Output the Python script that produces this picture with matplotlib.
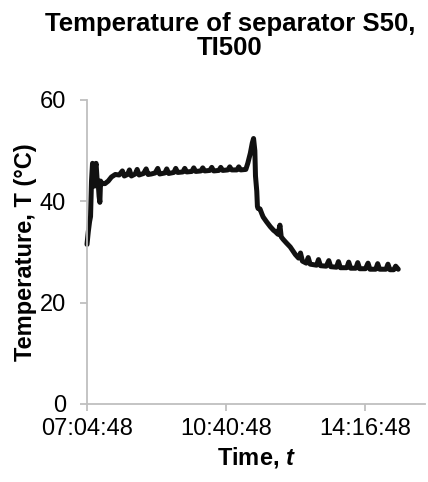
import datetime as dt
import matplotlib.pyplot as plt
from matplotlib.ticker import FuncFormatter

plt.rcParams['font.family'] = ['Liberation Sans', 'DejaVu Sans']
plt.rcParams['mathtext.fontset'] = 'custom'
plt.rcParams['mathtext.bfit'] = 'Liberation Sans:bold:italic'

# data: minutes after 07:04:48, temperature in degC
start = dt.datetime(2000, 1, 1, 7, 4, 48)
minutes = [0, 2, 4, 5.5, 7, 8.6, 10.2, 11.7, 12.5, 14.1, 15.6, 17.2, 18.8, 20, 21.1,
           23.5, 28, 33, 38, 44, 50, 55, 58, 63, 66, 69, 75, 78, 81, 88, 92, 95,
           100, 106, 110, 113, 121, 124, 127, 135, 138, 141, 149, 152, 155, 163,
           166, 169, 177, 180, 183, 191, 194, 197, 205, 208, 211, 219, 222, 225,
           233, 236, 239, 247, 250, 254, 257, 259, 261, 262, 264, 265, 266, 269,
           272, 274, 279, 285, 290, 293, 297, 300, 302, 305, 310, 316, 324, 329,
           332, 335, 341, 344, 347, 357, 360, 363, 372, 376, 379, 388, 391, 394,
           404, 407, 410, 418, 421, 424, 433, 437, 440, 449, 452, 455, 465, 468,
           471, 477, 480, 484]
temps = [31.5, 34, 36, 37, 44, 47.5, 47, 43, 46.5, 47.5, 44.5, 44, 41, 39.8, 44,
         43.5, 43.5, 44, 44.8, 45.3, 45.2, 46.0, 45.0, 45.3, 46.2, 45.0, 45.4, 46.3,
         45.2, 45.5, 46.4, 45.3, 45.4, 45.6, 46.5, 45.4, 45.6, 46.4, 45.5, 45.7,
         46.5, 45.7, 45.8, 46.5, 45.8, 45.9, 46.6, 45.9, 46.0, 46.6, 46.0, 46.1,
         46.7, 46.0, 46.1, 46.7, 46.1, 46.2, 46.8, 46.2, 46.2, 46.8, 46.2, 46.3,
         47.5, 49.5, 51.5, 52.4, 50, 45, 42, 39, 38.6, 38.5, 37.5, 36.9, 36, 35,
         34.3, 34, 33.5, 35.3, 33, 32.5, 31.8, 31.0, 29.5, 28.8, 29.8, 28.2, 27.8,
         28.9, 27.6, 27.4, 28.5, 27.3, 27.2, 28.3, 27.1, 27.0, 28.1, 26.9, 26.9,
         28.0, 26.8, 26.8, 27.9, 26.7, 26.7, 27.8, 26.6, 26.6, 27.7, 26.6, 26.6,
         27.6, 26.5, 26.5, 27.2, 26.6]
xticks = [0, 216, 432]
yticks = [0, 20, 40, 60]

fig = plt.figure(figsize=(4.28, 4.82), dpi=100)
ax = fig.add_axes([87 / 428, 78 / 482, 338 / 428, 304 / 482])
ax.plot(minutes, temps, color='#111111', lw=3.6, solid_joinstyle='round',
        solid_capstyle='round', clip_on=False)

ax.set_xlim(0, 525.6)
ax.set_ylim(0, 60)
ax.set_xticks(xticks)
ax.set_yticks(yticks)
ax.xaxis.set_major_formatter(FuncFormatter(
    lambda v, p: (start + dt.timedelta(minutes=float(v))).strftime('%H:%M:%S')))

for side in ['top', 'right']:
    ax.spines[side].set_visible(False)
for side in ['left', 'bottom']:
    ax.spines[side].set_color('#BFBFBF')
    ax.spines[side].set_linewidth(1.3)
ax.tick_params(colors='#BFBFBF', labelcolor='black', length=5, width=1.3,
               labelsize=17, direction='out')
ax.tick_params(axis='x', pad=5)
ax.tick_params(axis='y', pad=10)

ax.set_ylabel('Temperature, T (°C)', fontsize=17, fontweight='bold', labelpad=2)
ax.set_xlabel(r'Time, $\mathbfit{t}$', fontsize=17, fontweight='bold', labelpad=4)

fig.text(230 / 428, 1 - 12 / 482, 'Temperature of separator S50,\nTI500',
         ha='center', va='top', fontsize=18.5, fontweight='bold', linespacing=1.0)

fig.savefig('out.png', dpi=100)
